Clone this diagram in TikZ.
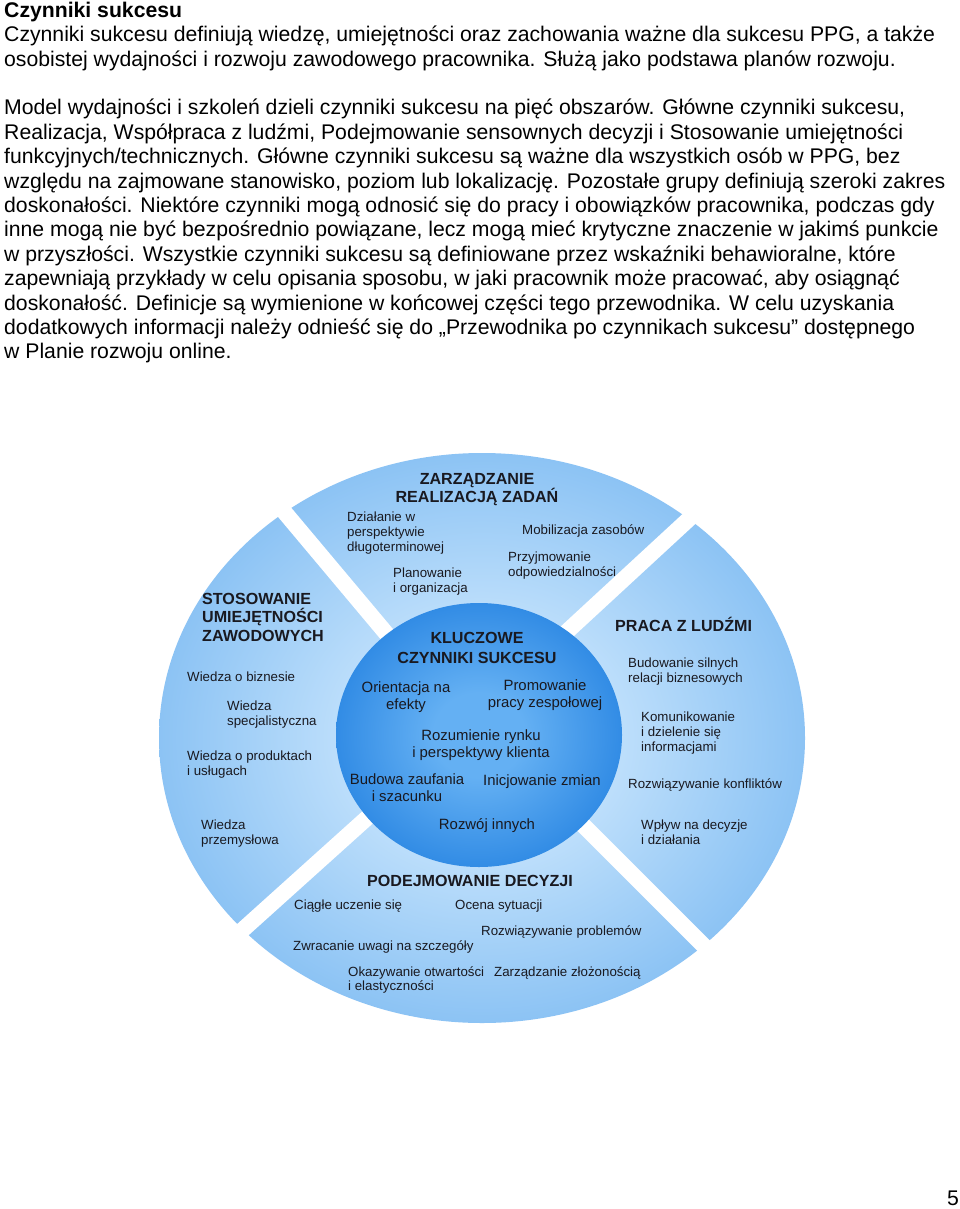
\documentclass[tikz,border=0pt]{standalone}
\usepackage{fontspec}
\setmainfont{Liberation Sans}
\definecolor{ringin}{RGB}{188,222,251}
\definecolor{ringout}{RGB}{140,195,244}
\definecolor{corein}{RGB}{100,176,243}
\definecolor{coreout}{RGB}{50,140,229}
\definecolor{labelc}{RGB}{25,25,32}
\pgfdeclareradialshading{ringshade}{\pgfpoint{0bp}{0bp}}{color(0bp)=(ringin); color(11bp)=(ringin); color(25bp)=(ringout); color(50bp)=(ringout)}
\pgfdeclareradialshading{coreshade}{\pgfpoint{0bp}{0bp}}{color(0bp)=(corein); color(8bp)=(corein); color(25bp)=(coreout); color(50bp)=(coreout)}
\tikzset{
  body/.style={anchor=base west, inner sep=0pt, font=\fontsize{21.2}{24}\selectfont},
  bodytitle/.style={body, font=\fontsize{21.2}{24}\selectfont\bfseries},
  item/.style={anchor=base west, inner sep=0pt, text=labelc, font=\fontsize{13.3}{15}\selectfont},
  head/.style={anchor=base west, inner sep=0pt, text=labelc, font=\fontsize{16.1}{18}\selectfont\bfseries},
  headc/.style={head, anchor=base},
  core/.style={anchor=base, inner sep=0pt, text=labelc, font=\fontsize{14.9}{17}\selectfont},
  gap/.style={draw=white, line width=16pt, shorten <=-25pt, shorten >=-25pt}
}
\begin{document}
\begin{tikzpicture}[x=1pt, y=-1pt]
\path[use as bounding box, fill=white] (0,0) rectangle (960,1209);

% ---- body text
\node[bodytitle] (t0) at (4,17.3) {Czynniki sukcesu};
\node[body] (t1) at (4,41.7) {Czynniki sukcesu definiują wiedzę, umiejętności oraz zachowania ważne dla sukcesu PPG, a także};
\node[body] (t2) at (4,66.1) {osobistej wydajności i rozwoju zawodowego pracownika. Służą jako podstawa planów rozwoju.};
\node[body] (t3) at (4,114.9) {Model wydajności i szkoleń dzieli czynniki sukcesu na pięć obszarów. Główne czynniki sukcesu,};
\node[body] (t4) at (4,139.3) {Realizacja, Współpraca z ludźmi, Podejmowanie sensownych decyzji i Stosowanie umiejętności};
\node[body] (t5) at (4,163.7) {funkcyjnych/technicznych. Główne czynniki sukcesu są ważne dla wszystkich osób w PPG, bez};
\node[body] (t6) at (4,188.1) {względu na zajmowane stanowisko, poziom lub lokalizację. Pozostałe grupy definiują szeroki zakres};
\node[body] (t7) at (4,212.5) {doskonałości. Niektóre czynniki mogą odnosić się do pracy i obowiązków pracownika, podczas gdy};
\node[body] (t8) at (4,236.9) {inne mogą nie być bezpośrednio powiązane, lecz mogą mieć krytyczne znaczenie w jakimś punkcie};
\node[body] (t9) at (4,261.3) {w przyszłości. Wszystkie czynniki sukcesu są definiowane przez wskaźniki behawioralne, które};
\node[body] (t10) at (4,285.7) {zapewniają przykłady w celu opisania sposobu, w jaki pracownik może pracować, aby osiągnąć};
\node[body] (t11) at (4,310.1) {doskonałość. Definicje są wymienione w końcowej części tego przewodnika. W celu uzyskania};
\node[body] (t12) at (4,334.5) {dodatkowych informacji należy odnieść się do „Przewodnika po czynnikach sukcesu” dostępnego};
\node[body] (t13) at (4,358.9) {w Planie rozwoju online.};
\node[body, anchor=base east] (pg) at (959,1205) {5};

% ---- diagram shapes
\shade[shading=ringshade] (482,738) ellipse [x radius=323, y radius=285];
\coordinate (g1a) at (380,626); \coordinate (g1b) at (281,508);
\coordinate (g2a) at (573,626); \coordinate (g2b) at (690,518);
\coordinate (g3a) at (368,817); \coordinate (g3b) at (238,934);
\coordinate (g4a) at (579,821); \coordinate (g4b) at (702,944);
\draw[gap] (g1a) -- (g1b);
\draw[gap] (g2a) -- (g2b);
\draw[gap] (g3a) -- (g3b);
\draw[gap] (g4a) -- (g4b);
\shade[shading=coreshade] (479,735) ellipse [x radius=143, y radius=132];

% ---- top sector
\node[headc] (zh1) at (477,484) {ZARZĄDZANIE};
\node[headc] (zh2) at (477,502) {REALIZACJĄ ZADAŃ};
\node[item] (z1a) at (347,521) {Działanie w};
\node[item] (z1b) at (347,536) {perspektywie};
\node[item] (z1c) at (347,551) {długoterminowej};
\node[item] (z2a) at (393,577) {Planowanie};
\node[item] (z2b) at (393,592) {i organizacja};
\node[item] (z3) at (522,534) {Mobilizacja zasobów};
\node[item] (z4a) at (508,561) {Przyjmowanie};
\node[item] (z4b) at (508,576) {odpowiedzialności};

% ---- left sector
\node[head] (sh1) at (202,604) {STOSOWANIE};
\node[head] (sh2) at (202,622.5) {UMIEJĘTNOŚCI};
\node[head] (sh3) at (202,641) {ZAWODOWYCH};
\node[item] (s1) at (187,681.5) {Wiedza o biznesie};
\node[item] (s2a) at (227,710.5) {Wiedza};
\node[item] (s2b) at (227,725.5) {specjalistyczna};
\node[item] (s3a) at (187,760.5) {Wiedza o produktach};
\node[item] (s3b) at (187,775.5) {i usługach};
\node[item] (s4a) at (201,829.5) {Wiedza};
\node[item] (s4b) at (201,844.5) {przemysłowa};

% ---- right sector
\node[head] (ph) at (615,631) {PRACA Z LUDŹMI};
\node[item] (p1a) at (628,667.5) {Budowanie silnych};
\node[item] (p1b) at (628,682.5) {relacji biznesowych};
\node[item] (p2a) at (641,721.5) {Komunikowanie};
\node[item] (p2b) at (641,736.5) {i dzielenie się};
\node[item] (p2c) at (641,751.5) {informacjami};
\node[item] (p3) at (628,788.5) {Rozwiązywanie konfliktów};
\node[item] (p4a) at (641,829.5) {Wpływ na decyzje};
\node[item] (p4b) at (641,844.5) {i działania};

% ---- core
\node[headc] (kh1) at (477,643) {KLUCZOWE};
\node[headc] (kh2) at (477,663) {CZYNNIKI SUKCESU};
\node[core] (k1a) at (406,692) {Orientacja na};
\node[core] (k1b) at (406,709.5) {efekty};
\node[core] (k2a) at (545,690) {Promowanie};
\node[core] (k2b) at (545,707.5) {pracy zespołowej};
\node[core] (k3a) at (481,740) {Rozumienie rynku};
\node[core] (k3b) at (481,757.5) {i perspektywy klienta};
\node[core] (k4a) at (407,784) {Budowa zaufania};
\node[core] (k4b) at (407,801.5) {i szacunku};
\node[core] (k5) at (542,785) {Inicjowanie zmian};
\node[core] (k6) at (487,829) {Rozwój innych};

% ---- bottom sector
\node[headc] (dh) at (470,886) {PODEJMOWANIE DECYZJI};
\node[item] (d1) at (294,909.5) {Ciągłe uczenie się};
\node[item] (d2) at (455,909.5) {Ocena sytuacji};
\node[item] (d3) at (481,935.5) {Rozwiązywanie problemów};
\node[item] (d4) at (293,950.5) {Zwracanie uwagi na szczegóły};
\node[item] (d5a) at (348,976.5) {Okazywanie otwartości};
\node[item] (d5b) at (348,990.5) {i elastyczności};
\node[item] (d6) at (494,976.5) {Zarządzanie złożonością};
\end{tikzpicture}
\end{document}
